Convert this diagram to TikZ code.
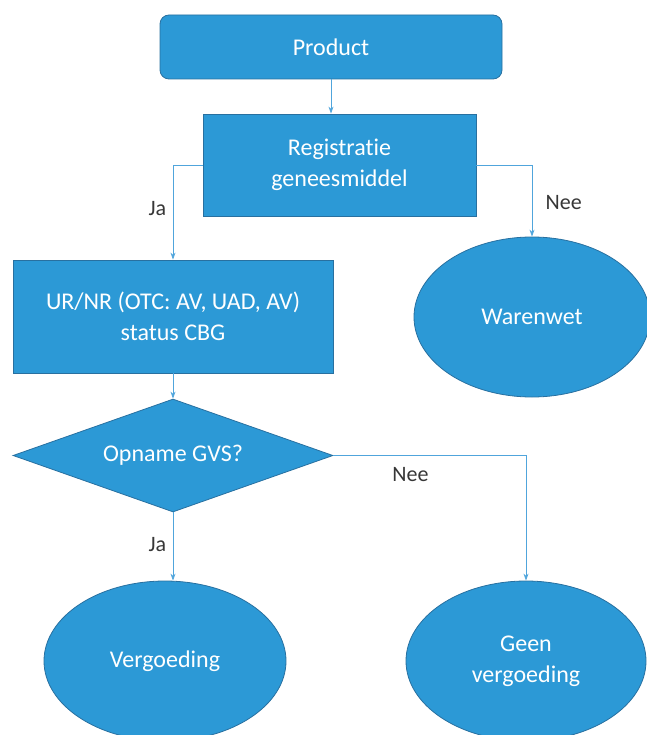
\documentclass[tikz,border=0pt]{standalone}
\usepackage{fontspec}
\setmainfont{Carlito}[Ligatures=CommonOff]
\usetikzlibrary{shapes.geometric,arrows.meta}
\tikzset{>={Stealth[length=7pt,width=5pt]}}
\definecolor{vakblauw}{RGB}{44,153,214}
\definecolor{randblauw}{RGB}{40,112,160}
\definecolor{lijnblauw}{RGB}{80,165,220}
\definecolor{labelgrijs}{RGB}{55,55,55}

\begin{document}
\begin{tikzpicture}[x=1pt,y=-1pt,
    blok/.style={draw=randblauw, fill=vakblauw, line width=0.8pt, text=white,
      font=\fontsize{24}{31}\selectfont, align=center, inner sep=0pt},
    lijn/.style={->, draw=lijnblauw, line width=0.8pt},
    keuze/.style={text=labelgrijs, font=\fontsize{22}{26}\selectfont}]
      \useasboundingbox (0,0) rectangle (646,735);
      \node[blok, rectangle, rounded corners=9pt, minimum width=342pt, minimum height=64pt] (product) at (331,47) {Product};
      \node[blok, rectangle, minimum width=273pt, minimum height=102pt] (registratie) at (339.5,165) {Registratie\\geneesmiddel};
      \node[blok, rectangle, minimum width=320pt, minimum height=113pt] (status) at (173,316.5) {UR/NR (OTC: AV, UAD, AV)\\status CBG};
      \node[blok, diamond, aspect=2.83, minimum width=320pt, minimum height=113pt] (gvs) at (173,455.5) {Opname GVS?};
      \node[blok, ellipse, minimum width=236pt, minimum height=160pt] (warenwet) at (532,317) {Warenwet};
      \node[blok, ellipse, minimum width=242pt, minimum height=160pt] (vergoeding) at (165,661) {Vergoeding};
      \node[blok, ellipse, minimum width=240pt, minimum height=160pt] (geen) at (526,661) {Geen\\vergoeding};
      \draw[lijn] (product) -- (product |- registratie.north);
      \draw[lijn] (registratie.west) -| node[keuze, pos=0.73, left=3pt] {Ja} (status.north);
      \draw[lijn] (registratie.east) -| node[keuze, pos=0.76, right=10pt] {Nee} (warenwet.north);
      \draw[lijn] (status) -- (gvs);
      \draw[lijn] (gvs.south) -- node[keuze, pos=0.47, left=3pt] {Ja} (gvs.south |- vergoeding.north);
      \draw[lijn] (gvs.east) -| node[keuze, pos=0.2, below=8pt] {Nee} (geen.north);
    \end{tikzpicture}
\end{document}
